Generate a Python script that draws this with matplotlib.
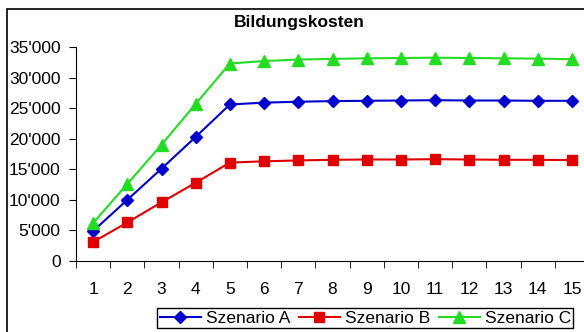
import matplotlib.pyplot as plt
from matplotlib.ticker import FuncFormatter, FixedLocator
from matplotlib.patches import Rectangle

plt.rcParams['font.family'] = ['Liberation Sans', 'DejaVu Sans']

years = list(range(1, 16))
szenario_a = [4900, 10000, 15100, 20300, 25600, 25900, 26050, 26150, 26200, 26250, 26300, 26250, 26250, 26200, 26200]
szenario_b = [3100, 6300, 9600, 12800, 16100, 16300, 16450, 16550, 16600, 16600, 16650, 16600, 16550, 16550, 16500]
szenario_c = [6200, 12600, 19000, 25700, 32300, 32700, 32950, 33050, 33150, 33200, 33250, 33200, 33150, 33100, 33000]
y_ticks = [0, 5000, 10000, 15000, 20000, 25000, 30000, 35000]


def swiss_fmt(v, pos):
  """format numbers like 35'000"""
  return "{:,.0f}".format(v).replace(",", "'")


fig = plt.figure(figsize=(5.84, 3.32), dpi=100)
fig.patches.append(Rectangle((7 / 584, -0.2), 1.2, 1.2 - 9 / 332, transform=fig.transFigure,
                             fill=False, edgecolor='black', linewidth=1.2))

ax = fig.add_axes([76 / 584, 1 - 261 / 332, 513 / 584, 214 / 332])
ax.plot(years, szenario_a, color='#0000CC', marker='D', markersize=6.5, linewidth=1.5, label='Szenario A')
ax.plot(years, szenario_b, color='#E00000', marker='s', markersize=7.5, linewidth=1.5, label='Szenario B')
ax.plot(years, szenario_c, color='#22DD22', marker='^', markersize=8.5, linewidth=1.5, label='Szenario C')

ax.set_xlim(0.5, 15.5)
ax.set_ylim(0, 35000)
ax.set_yticks(y_ticks)
ax.yaxis.set_major_formatter(FuncFormatter(swiss_fmt))
ax.set_xticks(years)
ax.tick_params(axis='x', which='major', length=0, pad=15, labelsize=12.5)
ax.xaxis.set_minor_locator(FixedLocator([y + 0.5 for y in [0] + years]))
ax.tick_params(axis='x', which='minor', length=5, direction='out')
ax.tick_params(axis='y', length=5, direction='out', labelsize=12.5, pad=6)
ax.spines['top'].set_visible(False)
ax.spines['right'].set_visible(False)

fig.text(299 / 584, 1 - 23 / 332, 'Bildungskosten', ha='center', va='center', fontsize=12.5, fontweight='bold')

fig.legend(loc='upper left', bbox_to_anchor=(157 / 584, 1 - 308 / 332), ncol=3, fontsize=12.5,
           frameon=True, fancybox=False, edgecolor='black', framealpha=1, borderpad=0.15,
           handlelength=2.4, handletextpad=0.25, columnspacing=0.5, borderaxespad=0)

plt.savefig('out.png', dpi=100)
